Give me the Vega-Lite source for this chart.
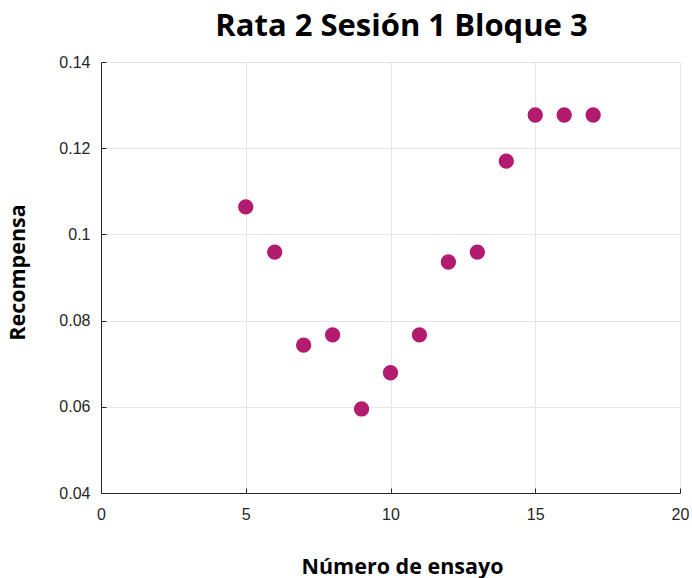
{
  "$schema": "https://vega.github.io/schema/vega-lite/v6.json",
  "autosize": "none",
  "width": 579,
  "height": 431,
  "padding": {"left": 101, "top": 62, "right": 12, "bottom": 85},
  "background": "white",
  "title": {
    "text": "Rata 2 Sesión 1 Bloque 3",
    "font": "Open Sans",
    "fontSize": 31,
    "fontWeight": "bold",
    "color": "#000000",
    "anchor": "middle",
    "dx": 11,
    "offset": 11
  },
  "data": {
    "values": [
      {"ensayo": 5, "recompensa": 0.1064},
      {"ensayo": 6, "recompensa": 0.0959},
      {"ensayo": 7, "recompensa": 0.0743},
      {"ensayo": 8, "recompensa": 0.0767},
      {"ensayo": 9, "recompensa": 0.0595},
      {"ensayo": 10, "recompensa": 0.0679},
      {"ensayo": 11, "recompensa": 0.0767},
      {"ensayo": 12, "recompensa": 0.0936},
      {"ensayo": 13, "recompensa": 0.0959},
      {"ensayo": 14, "recompensa": 0.117},
      {"ensayo": 15, "recompensa": 0.1277},
      {"ensayo": 16, "recompensa": 0.1277},
      {"ensayo": 17, "recompensa": 0.1277}
    ]
  },
  "mark": {"type": "circle", "size": 235, "opacity": 1, "color": "#B31B6E"},
  "encoding": {
    "x": {
      "field": "ensayo",
      "type": "quantitative",
      "scale": {"domain": [0, 20], "nice": false, "zero": false},
      "axis": {
        "title": "Número de ensayo",
        "values": [0, 5, 10, 15, 20],
        "titleFont": "Open Sans",
        "titleFontSize": 21.5,
        "titleFontWeight": "bold",
        "titleColor": "#000000",
        "titlePadding": 34,
        "titleX": 301,
        "labelFont": "Liberation Sans",
        "labelFontSize": 16,
        "labelColor": "#262626",
        "labelPadding": 18,
        "labelFlush": false,
        "tickSize": -5,
        "tickColor": "#262626",
        "domainColor": "#262626",
        "gridColor": "#e6e6e6",
        "grid": true
      }
    },
    "y": {
      "field": "recompensa",
      "type": "quantitative",
      "scale": {"domain": [0.04, 0.14], "nice": false, "zero": false},
      "axis": {
        "title": "Recompensa",
        "values": [0.04, 0.06, 0.08, 0.1, 0.12, 0.14],
        "format": "~g",
        "titleFont": "Open Sans",
        "titleFontSize": 21.5,
        "titleFontWeight": "bold",
        "titleColor": "#000000",
        "titlePadding": 29,
        "titleY": 210,
        "labelFont": "Liberation Sans",
        "labelFontSize": 16,
        "labelColor": "#262626",
        "labelPadding": 16,
        "labelFlush": false,
        "tickSize": -5,
        "tickColor": "#262626",
        "domainColor": "#262626",
        "gridColor": "#e6e6e6",
        "grid": true
      }
    }
  },
  "config": {"view": {"stroke": null}}
}
